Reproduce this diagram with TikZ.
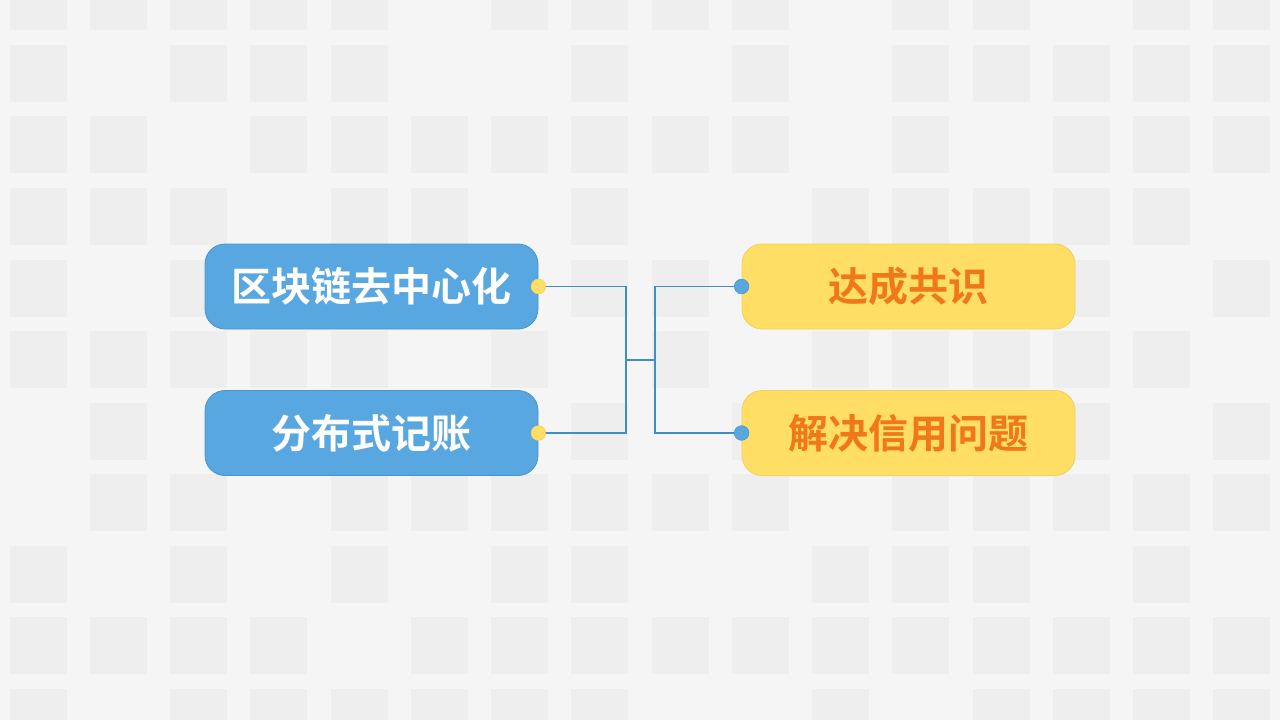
\documentclass[tikz,border=0pt]{standalone}
\usepackage{fontspec}
\newfontfamily\cjk{Noto Sans CJK SC Bold}
\definecolor{bgc}{HTML}{F5F5F5}
\definecolor{sqc}{HTML}{EEEEEE}
\definecolor{bluef}{HTML}{58A7E0}
\definecolor{blued}{HTML}{4A95CF}
\definecolor{yelf}{HTML}{FFDE66}
\definecolor{yeld}{HTML}{F5D05A}
\definecolor{orng}{HTML}{F07818}
\definecolor{linec}{HTML}{3E8EC8}
\tikzset{
  px/.style={x=0.75pt,y=-0.75pt},
  bluebox/.style={draw=blued,fill=bluef,rounded corners=15pt,minimum width=249.75pt,minimum height=63.75pt,text=white,font=\cjk\fontsize{30}{32}\selectfont,line width=0.6pt},
  yelbox/.style={draw=yeld,fill=yelf,rounded corners=15pt,minimum width=249.75pt,minimum height=63.75pt,text=orng,font=\cjk\fontsize{30}{32}\selectfont,line width=0.6pt},
  ydot/.style={circle,fill=yelf,draw=yeld,inner sep=0pt,minimum size=11pt},
  bdot/.style={circle,fill=bluef,draw=blued,inner sep=0pt,minimum size=11pt},
  conn/.style={draw=linec,line width=1.1pt}
}
\begin{document}
\begin{tikzpicture}[px]
\fill[bgc] (0,0) rectangle (1280,720);
\useasboundingbox (0,0) rectangle (1280,720);
% background squares: row index / list of columns
\foreach \r/\cols in {0/{0,1,2,3,4,6,7,8,9,11,12,14,15},
  1/{0,2,3,4,7,9,11,12,13,14,15},
  2/{0,1,3,4,5,6,7,8,9,11,13,14,15},
  3/{0,1,2,4,5,7,10,11,12,13,14},
  4/{0,2,7,8,13,15},
  5/{0,1,2,3,4,6,8,10,11,12,13,14},
  6/{1,7,9,13,15},
  7/{1,2,4,5,6,7,8,9,11,12,13,14,15},
  8/{0,2,4,6,7,10,11,12,14},
  9/{0,1,2,3,5,6,7,8,9,10,11,12,13,14,15},
  10/{0,2,3,4,5,6,7,10,12,13,14,15}}{
  \foreach \c in \cols {
    \fill[sqc] ({9.5+80.25*\c},{-26.5+71.5*\r}) rectangle ++(57,57);
  }
}
\node[bluebox] (a) at (371.5,286.5) {区块链去中心化};
\node[bluebox] (b) at (371.5,433) {分布式记账};
\node[yelbox] (c) at (908.5,286.5) {达成共识};
\node[yelbox] (d) at (908.5,433) {解决信用问题};
\coordinate (jl) at (626,360);
\coordinate (jr) at (655,360);
\draw[conn] (a.east) -| (jl) (b.east) -| (jl) -- (jr);
\draw[conn] (c.west) -| (jr) (d.west) -| (jr);
\node[ydot] at (a.east) {};
\node[ydot] at (b.east) {};
\node[bdot] at (c.west) {};
\node[bdot] at (d.west) {};
\end{tikzpicture}
\end{document}
